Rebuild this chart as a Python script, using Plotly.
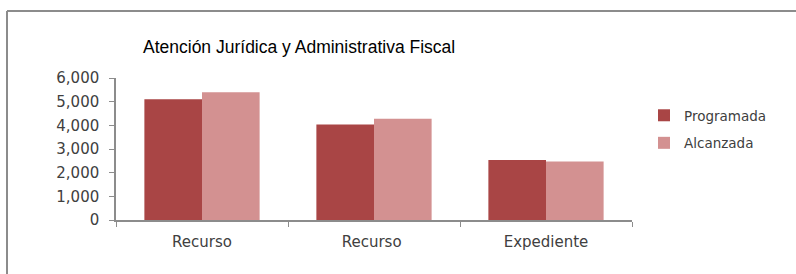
import plotly.graph_objects as go

categories = ["Recurso", "Recurso ", "Expediente"]
programada = [5100, 4040, 2530]
alcanzada = [5400, 4280, 2470]
series_names = ["Programada", "Alcanzada"]
title_text = "Atención Jurídica y Administrativa Fiscal"

W, H = 796, 274
L, R, T, B = 116, 164, 78, 54
pw, ph = W - L - R, H - T - B

def px_x(x):
    return (x - L) / pw

def px_y(y):
    return (H - B - y) / ph

fig = go.Figure()
fig.add_trace(go.Bar(x=categories, y=programada, name=series_names[0], legendgroup="a",
                     marker=dict(color="#A94545", line=dict(width=0))))
fig.add_trace(go.Bar(x=categories, y=alcanzada, name=series_names[1], legendgroup="b",
                     marker=dict(color="#D39191", line=dict(width=0))))

font_fam = "DejaVu Sans"
fig.update_layout(
    width=W, height=H,
    margin=dict(l=L, r=R, t=T, b=B, pad=0),
    paper_bgcolor="white", plot_bgcolor="white",
    barmode="group", bargap=0.33, bargroupgap=0,
    font=dict(family=font_fam, size=15, color="#404040"),
    title=dict(text=title_text, x=px_x(143), xref="paper", xanchor="left",
               y=1 - 47 / H, yanchor="middle",
               font=dict(family="Liberation Sans", size=17.5, color="#000000")),
    legend=dict(x=px_x(644), xanchor="left", y=px_y(100), yanchor="top",
                font=dict(size=13.5, color="#404040"), tracegroupgap=7,
                traceorder="grouped", itemwidth=30, bgcolor="rgba(0,0,0,0)"),
    xaxis=dict(type="category", showline=True, linecolor="#8C8C8C", linewidth=1.5,
               ticks="outside", tickson="boundaries", ticklen=5, tickcolor="#8C8C8C",
               showgrid=False, tickfont=dict(size=15), ticklabelstandoff=7),
    yaxis=dict(range=[0, 6000], dtick=1000, tickformat=",d", showline=True,
               linecolor="#8C8C8C", linewidth=1.5, ticks="outside", ticklen=5,
               tickcolor="#8C8C8C", showgrid=False, zeroline=False,
               tickfont=dict(size=15), ticklabelstandoff=7),
    shapes=[
        dict(type="line", xref="paper", yref="paper", x0=px_x(7), x1=px_x(W),
             y0=px_y(11), y1=px_y(11), line=dict(color="#8C8C8C", width=2)),
        dict(type="line", xref="paper", yref="paper", x0=px_x(7), x1=px_x(7),
             y0=px_y(11), y1=px_y(H), line=dict(color="#8C8C8C", width=2)),
    ],
)

fig.write_html("out.html", config={"displayModeBar": False},
               post_script="document.body.style.margin='0';")
